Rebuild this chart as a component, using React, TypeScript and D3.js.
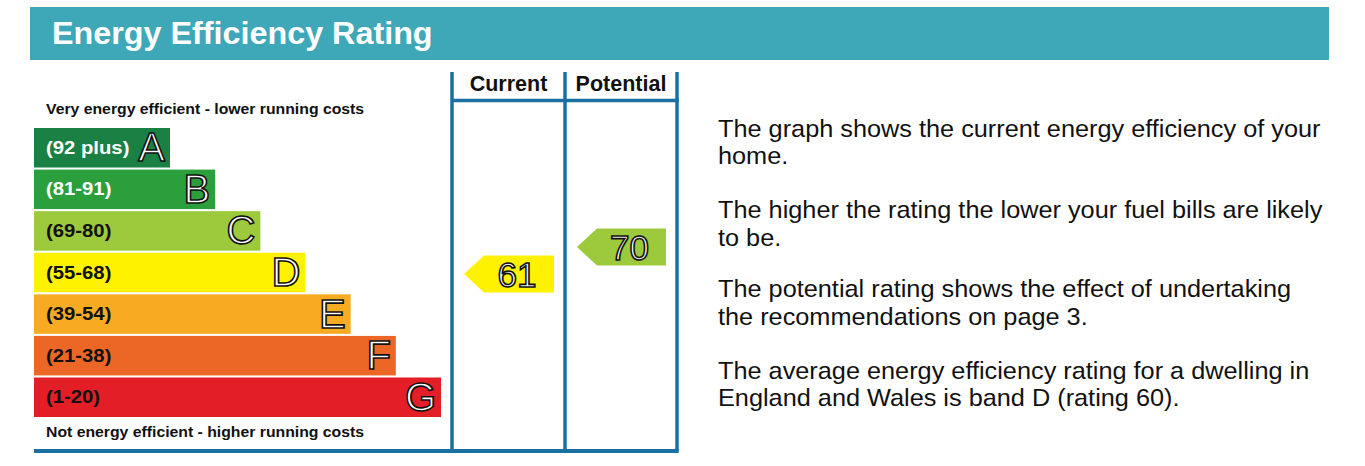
import React from "react";
import * as d3 from "d3";

const bandLetters = ["A", "B", "C", "D", "E", "F", "G"];
const bandRanges = ["(92 plus)", "(81-91)", "(69-80)", "(55-68)", "(39-54)", "(21-38)", "(1-20)"];
const bandLow = [92, 81, 69, 55, 39, 21, 1];
const bandHigh = [100, 91, 80, 68, 54, 38, 20];
const bandColors = ["#1a8044", "#2b9f3c", "#9dc93d", "#fff200", "#f6ab23", "#ec6726", "#e31e26"];
const bandTextColors = ["#ffffff", "#ffffff", "#111111", "#111111", "#111111", "#111111", "#111111"];
const columnNames = ["Current", "Potential"];
const ratings = [61, 70];
const titleText = "Energy Efficiency Rating";
const topLabel = "Very energy efficient - lower running costs";
const bottomLabel = "Not energy efficient - higher running costs";
const paragraphs = [
  ["The graph shows the current energy efficiency of your", "home."],
  ["The higher the rating the lower your fuel bills are likely", "to be."],
  ["The potential rating shows the effect of undertaking", "the recommendations on page 3."],
  ["The average energy efficiency rating for a dwelling in", "England and Wales is band D (rating 60)."],
];
const paragraphBaselines = [136.5, 218, 297, 378.5];

const W = 1365;
const H = 466;
const FONT = "'Liberation Sans', Arial, Helvetica, sans-serif";
const TEAL = "#3fa8b8";
const BLUE = "#1a70a0";

function SText({ x, y, sx, children, ...rest }: any) {
  return (
    <text transform={`translate(${x},${y}) scale(${sx},1)`} x={0} y={0} {...rest}>
      {children}
    </text>
  );
}

export default function App() {
  const y = d3.scaleBand<string>().domain(bandLetters).range([128, 417]).paddingInner(0.05).paddingOuter(0);
  const bw = y.bandwidth();
  const barLeft = 34;
  const xRight = d3.scaleLinear().domain([0, bandLetters.length - 1]).range([170, 441]);
  const colX = d3.scaleLinear().domain([0, 1, 2]).range([452, 565, 677]);

  const valueY = (v: number) => {
    const i = bandLetters.findIndex((_, k) => v >= bandLow[k] && v <= bandHigh[k]);
    const top = y(bandLetters[i]) as number;
    const s = d3.scaleLinear().domain([bandHigh[i], bandLow[i]]).range([top, top + bw]);
    return { cy: s(v), idx: i };
  };

  const arrowH = 37;
  const arrow = d3.line();

  return (
    <svg width={W} height={H} style={{ position: "absolute", left: 0, top: 0 }} fontFamily={FONT}>
      <rect x={0} y={0} width={W} height={H} fill="#ffffff" />
      <rect x={30} y={7} width={1299} height={53} fill={TEAL} />
      <SText x={52} y={43.5} sx={1.06} fill="#ffffff" fontSize={30.5} fontWeight="bold">{titleText}</SText>

      <SText x={46} y={114} sx={1.025} fontSize={15.4} fontWeight="bold" fill="#111">{topLabel}</SText>
      <SText x={46} y={437} sx={1.025} fontSize={15.4} fontWeight="bold" fill="#111">{bottomLabel}</SText>

      {bandLetters.map((L, i) => {
        const top = y(L) as number;
        const cy = top + bw / 2;
        const right = xRight(i);
        return (
          <g key={L}>
            <rect x={barLeft} y={top} width={right - barLeft} height={bw} fill={bandColors[i]} />
            <SText x={46} y={cy + 6} sx={1.08} fontSize={18.8} fontWeight="bold" fill={bandTextColors[i]}>{bandRanges[i]}</SText>
            <text x={right - 5} y={cy + 13.5} fontSize={40} textAnchor="end" fill="#ffffff" stroke="#111" strokeWidth={1.6}>{L}</text>
          </g>
        );
      })}

      {[0, 1, 2].map((k) => (
        <line key={k} x1={colX(k)} x2={colX(k)} y1={72} y2={451} stroke={BLUE} strokeWidth={3.5} />
      ))}
      <line x1={colX(0)} x2={colX(2) + 1.75} y1={100.5} y2={100.5} stroke={BLUE} strokeWidth={3.5} />
      <line x1={34} x2={colX(2) + 1.75} y1={451} y2={451} stroke={BLUE} strokeWidth={4} />
      {columnNames.map((c, k) => (
        <text key={c} x={(colX(k) + colX(k + 1)) / 2} y={91} fontSize={21.5} fontWeight="bold" textAnchor="middle" fill="#111">{c}</text>
      ))}

      {ratings.map((r, k) => {
        const { cy, idx } = valueY(r);
        const tip = colX(k) + 12;
        const right = colX(k + 1) - 11;
        const depth = 20;
        const pts: [number, number][] = [
          [tip, cy],
          [tip + depth, cy - arrowH / 2],
          [right, cy - arrowH / 2],
          [right, cy + arrowH / 2],
          [tip + depth, cy + arrowH / 2],
        ];
        return (
          <g key={k}>
            <path d={(arrow(pts) as string) + "Z"} fill={bandColors[idx]} />
            <text x={(tip + depth + right) / 2 - 2} y={cy + 13} fontSize={35} textAnchor="middle" fill="#ffffff" stroke="#111" strokeWidth={1.6}>{r}</text>
          </g>
        );
      })}

      {paragraphs.map((p, k) => (
        <g key={k}>
          {p.map((line, j) => (
            <SText key={j} x={718} y={paragraphBaselines[k] + j * 27.5} sx={1.063} fontSize={23.8} fill="#111">{line}</SText>
          ))}
        </g>
      ))}
    </svg>
  );
}
